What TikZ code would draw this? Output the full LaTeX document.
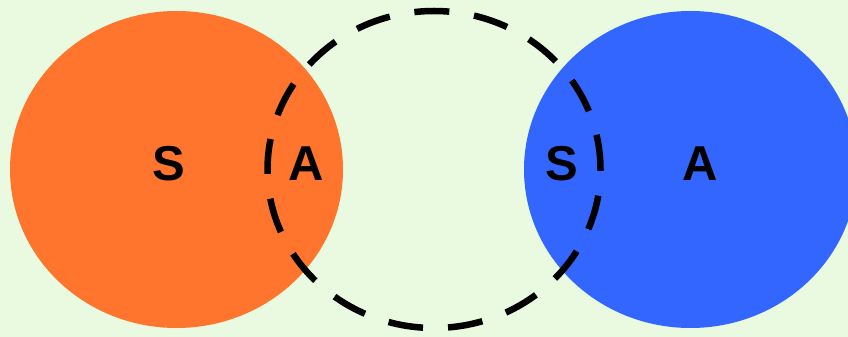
\documentclass[tikz,border=0pt]{standalone}
\usepackage{fontspec}
\setmainfont{Liberation Sans}
\usetikzlibrary{shapes.geometric}
\definecolor{bggreen}{RGB}{234,250,225}
\definecolor{setorange}{RGB}{255,117,46}
\definecolor{setblue}{RGB}{51,102,255}
\begin{document}
\begin{tikzpicture}[x=1pt,y=1pt]
      \tikzstyle{blob}=[ellipse,minimum width=333pt,minimum height=317pt,inner sep=0pt]
      \tikzstyle{letter}=[font=\fontsize{49}{49}\selectfont\bfseries,inner sep=0pt]
      \fill[bggreen] (0,0) rectangle (848,337);
      \useasboundingbox (0,0) rectangle (848,337);
      \node[blob,fill=setorange] (S_1) at (176.5,167.5) {};
      \node[blob,fill=setblue]   (S_3) at (690.5,167.5) {};
      \node[blob,draw=black,line width=6.5pt,dash pattern=on 35pt off 25pt] (S_2) at (434,167.5) {};
      \node[letter] (L_1) at (169,173.5) {S};
      \node[letter] (L_2) at (306,173.5) {A};
      \node[letter] (L_3) at (562,173.5) {S};
      \node[letter] (L_4) at (700,173.5) {A};
    \end{tikzpicture}
\end{document}
